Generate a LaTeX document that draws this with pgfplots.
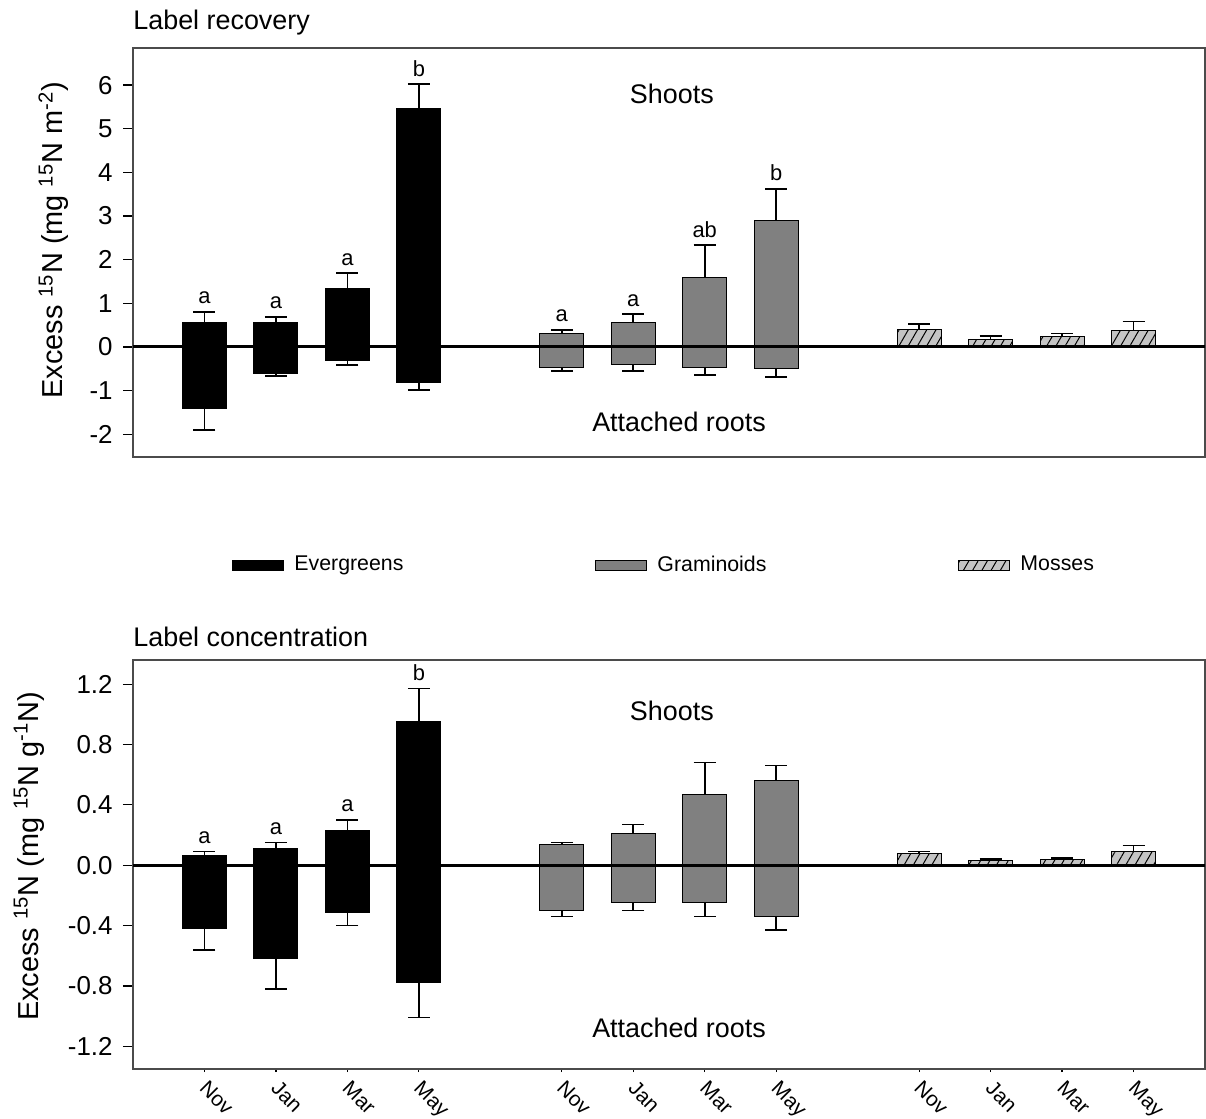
\documentclass[border=0pt]{standalone}
\usepackage{pgfplots}
\pgfplotsset{compat=1.18}
\usepackage{fontspec}
\setmainfont{Liberation Sans}
\usetikzlibrary{patterns.meta}
\definecolor{gram}{RGB}{128,128,128}
\definecolor{moss}{RGB}{196,196,196}
\definecolor{framec}{RGB}{75,75,75}
\tikzset{
  lab/.style={font=\fontsize{11}{11}\selectfont, anchor=south, inner sep=0pt, yshift=3.8bp},
  big/.style={font=\fontsize{13.5}{13.5}\selectfont},
}
\pgfplotsset{
  mybase/.style={
    scale only axis, width=536bp, height=204.5bp,
    xmin=0, xmax=15,
    axis line style={framec, line width=0.8bp},
    ybar,
    tick style={black, line width=0.6bp},
    ytick pos=left, tick align=outside, major tick length=5bp, minor tick length=1.6bp,
    yticklabel style={font=\fontsize{13}{13}\selectfont, inner sep=0pt, xshift=-5bp},
    /pgf/number format/assume math mode=true,
    ylabel style={font=\fontsize{14.5}{14.5}\selectfont, anchor=base, inner sep=0pt},
    clip=false,
  },
  ev/.style={fill=black, draw=black, line width=0.5bp, bar width=22bp, bar shift=0pt},
  gr/.style={fill=gram, draw=black, line width=0.5bp, bar width=22bp, bar shift=0pt},
  mo/.style={fill=moss, draw=black, line width=0.5bp, bar width=22bp, bar shift=0pt,
     postaction={pattern={Lines[angle=60,distance=4bp,line width=0.5bp]}}},
  errp/.style={/pgfplots/error bars/y dir=plus, /pgfplots/error bars/y explicit,
     /pgfplots/error bars/error bar style={line width=0.8bp, black, solid},
     /pgfplots/error bars/error mark options={rotate=90, mark size=5.5bp, line width=0.8bp, black, solid}},
  errm/.style={/pgfplots/error bars/y dir=minus, /pgfplots/error bars/y explicit,
     /pgfplots/error bars/error bar style={line width=0.8bp, black, solid},
     /pgfplots/error bars/error mark options={rotate=90, mark size=5.5bp, line width=0.8bp, black, solid}},
}
\begin{document}
\begin{tikzpicture}
\begin{axis}[mybase,
  at={(66.5bp,331bp)}, anchor=south west,
  ymin=-2.52, ymax=6.85,
  ytick={-2,-1,0,1,2,3,4,5,6},
  xtick=\empty,
  ylabel={Excess \textsuperscript{15}N (mg \textsuperscript{15}N m\textsuperscript{-2})},
  ylabel style={at={(rel axis cs:-0.0653,0.53)}},
  legend columns=3,
  legend style={at={(axis description cs:0.0924,-0.2641)}, anchor=west, draw=none, fill=none,
    inner sep=0pt, font=\fontsize{10.7}{10.7}\selectfont,
    nodes={inner sep=0pt},
    /tikz/every odd column/.append style={column sep=5bp},
    /tikz/every even column/.append style={column sep=96bp}},
  legend image code/.code={\draw[#1] (0bp,-2.5bp) rectangle (25.5bp,2.5bp);},
]
% Evergreens
\addplot[ev, errp] coordinates {(1,0.57) +- (0,0.23) (2,0.55) +- (0,0.14) (3,1.33) +- (0,0.36) (4,5.47) +- (0,0.55)};
\addlegendentry{Evergreens}
\addplot[ev, errm, forget plot] coordinates {(1,-1.40) +- (0,0.50) (2,-0.60) +- (0,0.07) (3,-0.32) +- (0,0.09) (4,-0.82) +- (0,0.16)};
% Graminoids
\addplot[gr, errp] coordinates {(6,0.32) +- (0,0.07) (7,0.55) +- (0,0.20) (8,1.60) +- (0,0.73) (9,2.90) +- (0,0.72)};
\addlegendentry{Graminoids}
\addplot[gr, errm, forget plot] coordinates {(6,-0.46) +- (0,0.09) (7,-0.41) +- (0,0.14) (8,-0.46) +- (0,0.18) (9,-0.50) +- (0,0.19)};
% Mosses
\addplot[mo, errp] coordinates {(11,0.40) +- (0,0.12) (12,0.18) +- (0,0.07) (13,0.23) +- (0,0.08) (14,0.38) +- (0,0.20)};
\addlegendentry{Mosses}
\draw[black, line width=1.5bp] (axis cs:0,0) -- (axis cs:15,0);
\node[lab] at (axis cs:1,0.80) {a};
\node[lab] at (axis cs:2,0.69) {a};
\node[lab] at (axis cs:3,1.69) {a};
\node[lab] at (axis cs:4,6.02) {b};
\node[lab] at (axis cs:6,0.39) {a};
\node[lab] at (axis cs:7,0.75) {a};
\node[lab] at (axis cs:8,2.33) {ab};
\node[lab] at (axis cs:9,3.62) {b};
\node[big] at (axis cs:7.54,5.79) {Shoots};
\node[big] at (axis cs:7.64,-1.72) {Attached roots};
\node[anchor=base west, inner sep=0pt, font=\fontsize{13.5}{13.5}\selectfont] at ([yshift=9bp]rel axis cs:0,1) {Label recovery};
\end{axis}

\begin{axis}[mybase,
  at={(66.5bp,25bp)}, anchor=south west,
  ymin=-1.35, ymax=1.36,
  ytick={-1.2,-0.8,-0.4,0,0.4,0.8,1.2},
  yticklabel style={/pgf/number format/.cd, fixed, fixed zerofill, precision=1},
  xtick={1,2,3,4,6,7,8,9,11,12,13,14},
  minor xtick={1,2,3,4,6,7,8,9,11,12,13,14},
  major x tick style={draw=none},
  xticklabels={Nov,Jan,Mar,May,Nov,Jan,Mar,May,Nov,Jan,Mar,May},
  xtick pos=bottom,
  x tick label style={font=\fontsize{10.5}{10.5}\selectfont, rotate=-45, anchor=north west, inner sep=0pt, yshift=1.5bp, xshift=1.5bp},
  ylabel={Excess \textsuperscript{15}N (mg \textsuperscript{15}N g\textsuperscript{-1}N)},
  ylabel style={at={(rel axis cs:-0.0886,0.52)}},
]
\addplot[ev, errp] coordinates {(1,0.066) +- (0,0.024) (2,0.11) +- (0,0.04) (3,0.23) +- (0,0.07) (4,0.95) +- (0,0.22)};
\addplot[ev, errm] coordinates {(1,-0.42) +- (0,0.14) (2,-0.62) +- (0,0.20) (3,-0.31) +- (0,0.09) (4,-0.78) +- (0,0.23)};
\addplot[gr, errp] coordinates {(6,0.14) +- (0,0.01) (7,0.21) +- (0,0.06) (8,0.47) +- (0,0.21) (9,0.56) +- (0,0.10)};
\addplot[gr, errm] coordinates {(6,-0.30) +- (0,0.04) (7,-0.25) +- (0,0.05) (8,-0.25) +- (0,0.09) (9,-0.34) +- (0,0.09)};
\addplot[mo, errp] coordinates {(11,0.075) +- (0,0.017) (12,0.03) +- (0,0.01) (13,0.04) +- (0,0.01) (14,0.09) +- (0,0.04)};
\draw[black, line width=1.5bp] (axis cs:0,0) -- (axis cs:15,0);
\node[lab] at (axis cs:1,0.09) {a};
\node[lab] at (axis cs:2,0.15) {a};
\node[lab] at (axis cs:3,0.30) {a};
\node[lab] at (axis cs:4,1.17) {b};
\node[big] at (axis cs:7.54,1.02) {Shoots};
\node[big] at (axis cs:7.64,-1.08) {Attached roots};
\node[anchor=base west, inner sep=0pt, font=\fontsize{13.5}{13.5}\selectfont] at ([yshift=6.5bp]rel axis cs:0,1) {Label concentration};
\end{axis}
\pgfresetboundingbox
\path (0,0) rectangle (603bp,559.5bp);
\end{tikzpicture}
\end{document}
